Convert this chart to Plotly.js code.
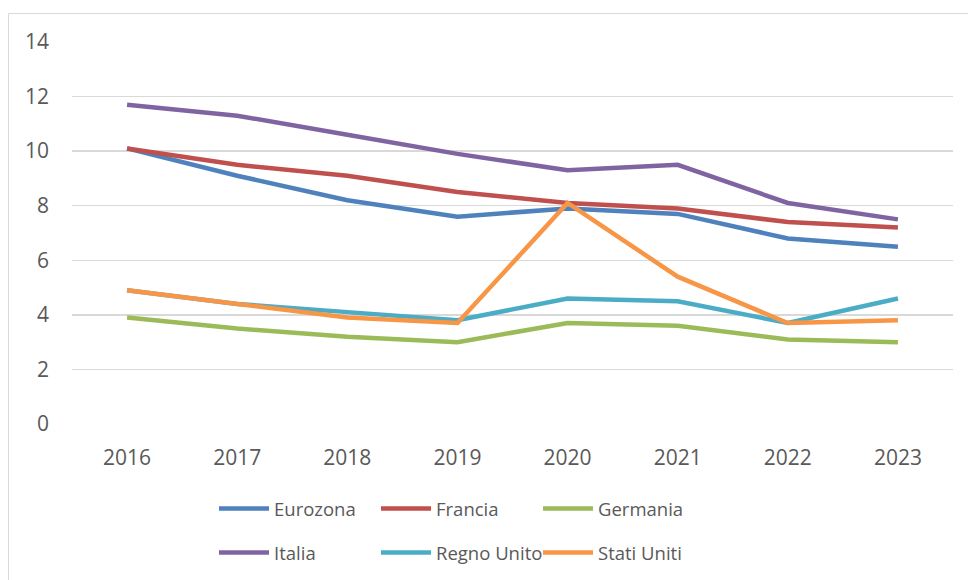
<!DOCTYPE html>
<html>
<head>
<meta charset="utf-8">
<script src="https://cdn.plot.ly/plotly-3.0.1.min.js"></script>
<style>html,body{margin:0;padding:0;background:#fff}#chart{width:968px;height:580px}</style>
</head>
<body>
<div id="chart"></div>
<script>
const years = ['2016','2017','2018','2019','2020','2021','2022','2023'];
const eurozona   = [10.1, 9.1, 8.2, 7.6, 7.9, 7.7, 6.8, 6.5];
const francia    = [10.1, 9.5, 9.1, 8.5, 8.1, 7.9, 7.4, 7.2];
const germania   = [3.9, 3.5, 3.2, 3.0, 3.7, 3.6, 3.1, 3.0];
const italia     = [11.7, 11.3, 10.6, 9.9, 9.3, 9.5, 8.1, 7.5];
const regnoUnito = [4.9, 4.4, 4.1, 3.8, 4.6, 4.5, 3.7, 4.6];
const statiUniti = [4.9, 4.4, 3.9, 3.7, 8.1, 5.4, 3.7, 3.8];
const yTicks = [0, 2, 4, 6, 8, 10, 12, 14];

const seriesDefs = [
  {name:'Eurozona', y:eurozona, color:'#4f81bd', legend:'legend'},
  {name:'Francia', y:francia, color:'#c0504d', legend:'legend'},
  {name:'Germania', y:germania, color:'#9bbb59', legend:'legend'},
  {name:'Italia', y:italia, color:'#8064a2', legend:'legend2'},
  {name:'Regno Unito', y:regnoUnito, color:'#4bacc6', legend:'legend2'},
  {name:'Stati Uniti', y:statiUniti, color:'#f79646', legend:'legend2'}
];

const traces = seriesDefs.map(s => ({
  type:'scatter', mode:'lines', x:years, y:s.y, name:s.name, legend:s.legend,
  line:{color:s.color, width:4.5}, hoverinfo:'skip'
}));

const tickFont = {family:'"Open Sans", sans-serif', size:21, color:'#595959'};
const legFont = {family:'"Open Sans", sans-serif', size:18.5, color:'#595959'};
const legendCommon = {
  orientation:'h', xanchor:'left', yanchor:'middle', xref:'container', yref:'container',
  font:legFont, bgcolor:'rgba(0,0,0,0)', entrywidth:97, entrywidthmode:'pixels',
  itemwidth:50, traceorder:'normal'
};

const layout = {
  width:968, height:580,
  margin:{l:72, r:15, t:42, b:156, autoexpand:false},
  paper_bgcolor:'#ffffff', plot_bgcolor:'#ffffff',
  font:tickFont,
  showlegend:true,
  xaxis:{type:'category', range:[-0.5, 7.5], showgrid:false, zeroline:false, showline:false, ticks:'',
         tickfont:tickFont, ticklabelstandoff:19, fixedrange:true},
  yaxis:{range:[0,14], tickvals:yTicks, showgrid:true, gridcolor:'#d9d9d9', gridwidth:1.3,
         zeroline:false, showline:false, ticks:'', tickfont:tickFont, ticklabelstandoff:22, fixedrange:true},
  legend:Object.assign({}, legendCommon, {x:214/968, y:(580-509)/580}),
  legend2:Object.assign({}, legendCommon, {x:214/968, y:(580-553)/580}),
  shapes:[{type:'rect', xref:'paper', yref:'paper', x0:(8.5-72)/881, x1:1.2, y0:-1, y1:(424-13.5)/382,
           line:{color:'#d9d9d9', width:1}, fillcolor:'rgba(0,0,0,0)', layer:'below'}]
};

Plotly.newPlot('chart', traces, layout, {displayModeBar:false, staticPlot:true});
</script>
</body>
</html>
